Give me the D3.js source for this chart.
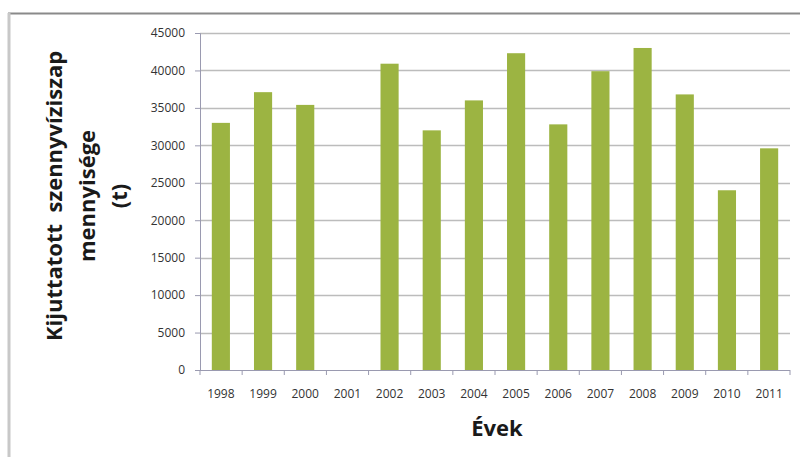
<!DOCTYPE html>
<html>
<head>
<meta charset="utf-8">
<script src="https://cdn.jsdelivr.net/npm/d3@7"></script>
<style>
  html, body { margin: 0; padding: 0; background: #fff; }
  svg { display: block; }
</style>
</head>
<body>
<svg id="chart" width="800" height="457"></svg>
<script>
// Sewage sludge delivered per year (tonnes); 2001 has no data
const years = ["1998","1999","2000","2001","2002","2003","2004","2005","2006","2007","2008","2009","2010","2011"];
const amounts = [33000, 37100, 35400, 0, 40900, 32000, 36000, 42300, 32800, 39900, 43000, 36800, 24000, 29600];
const yTicks = [0, 5000, 10000, 15000, 20000, 25000, 30000, 35000, 40000, 45000];
const yTitleLines = ["Kijuttatott  szennyvíziszap", "mennyisége", "(t)"];
const xTitle = "Évek";

const svg = d3.select("#chart");
const font = "'Open Sans', 'Noto Sans', sans-serif";

const plotLeft = 200, plotRight = 790, plotTop = 33, plotBottom = 370;

const x = d3.scaleBand().domain(years).range([plotLeft, plotRight]).paddingInner(0.57).paddingOuter(0.28);
const y = d3.scaleLinear().domain([0, 45000]).range([plotBottom, plotTop]);

// outer frame
svg.append("line").attr("x1", 8).attr("x2", 800).attr("y1", 13.5).attr("y2", 13.5)
  .attr("stroke", "#8a8a8a").attr("stroke-width", 2);
svg.append("line").attr("x1", 9).attr("x2", 9).attr("y1", 13).attr("y2", 457)
  .attr("stroke", "#c8c8c8").attr("stroke-width", 3);

// horizontal gridlines
svg.append("g").selectAll("line").data(yTicks.filter(d => d > 0)).join("line")
  .attr("x1", plotLeft).attr("x2", plotRight)
  .attr("y1", d => Math.round(y(d)) + 0.5).attr("y2", d => Math.round(y(d)) + 0.5)
  .attr("stroke", "#bcbcbc").attr("stroke-width", 1.3);

// bars
svg.append("g").selectAll("rect").data(years.map((yr, i) => ({ yr, v: amounts[i] })).filter(d => d.v > 0))
  .join("rect")
  .attr("x", d => x(d.yr))
  .attr("width", x.bandwidth())
  .attr("y", d => y(d.v))
  .attr("height", d => y(0) - y(d.v))
  .attr("fill", "#9cb442");

// y axis
const yAxis = svg.append("g").attr("transform", `translate(${plotLeft},0)`)
  .call(d3.axisLeft(y).tickValues(yTicks).tickSize(5).tickPadding(10).tickFormat(d3.format("d")));
yAxis.select(".domain").attr("stroke", "#9a9ab0");
yAxis.selectAll(".tick line").attr("stroke", "#9a9ab0");
yAxis.selectAll("text").attr("font-family", font).attr("font-size", 12).attr("fill", "#333");

// x axis with ticks on category boundaries
const xAxisG = svg.append("g").attr("transform", `translate(0,${plotBottom})`);
xAxisG.append("line").attr("x1", plotLeft).attr("x2", plotRight).attr("y1", 0.5).attr("y2", 0.5)
  .attr("stroke", "#9a9ab0");
const bounds = d3.range(years.length + 1).map(i => plotLeft + i * (plotRight - plotLeft) / years.length);
xAxisG.selectAll(".tk").data(bounds).join("line").attr("class", "tk")
  .attr("x1", d => d).attr("x2", d => d).attr("y1", 0).attr("y2", 5)
  .attr("stroke", "#9a9ab0");
xAxisG.selectAll(".lbl").data(years).join("text").attr("class", "lbl")
  .attr("x", d => x(d) + x.bandwidth() / 2)
  .attr("y", 28)
  .attr("text-anchor", "middle")
  .attr("font-family", font).attr("font-size", 12).attr("fill", "#333")
  .text(d => d);

// axis titles
svg.append("text").attr("x", 497).attr("y", 436).attr("text-anchor", "middle")
  .attr("font-family", font).attr("font-weight", "bold").attr("font-size", 22).attr("fill", "#1a1a1a")
  .text(xTitle);

const yTitle = svg.append("text")
  .attr("transform", "translate(54,196) rotate(-90)")
  .attr("text-anchor", "middle")
  .style("white-space", "pre")
  .attr("font-family", font).attr("font-weight", "bold").attr("font-size", 22).attr("fill", "#1a1a1a");
yTitleLines.forEach((line, i) => {
  yTitle.append("tspan").attr("x", 0).attr("y", 8 + i * 32.5).text(line);
});
</script>
</body>
</html>
